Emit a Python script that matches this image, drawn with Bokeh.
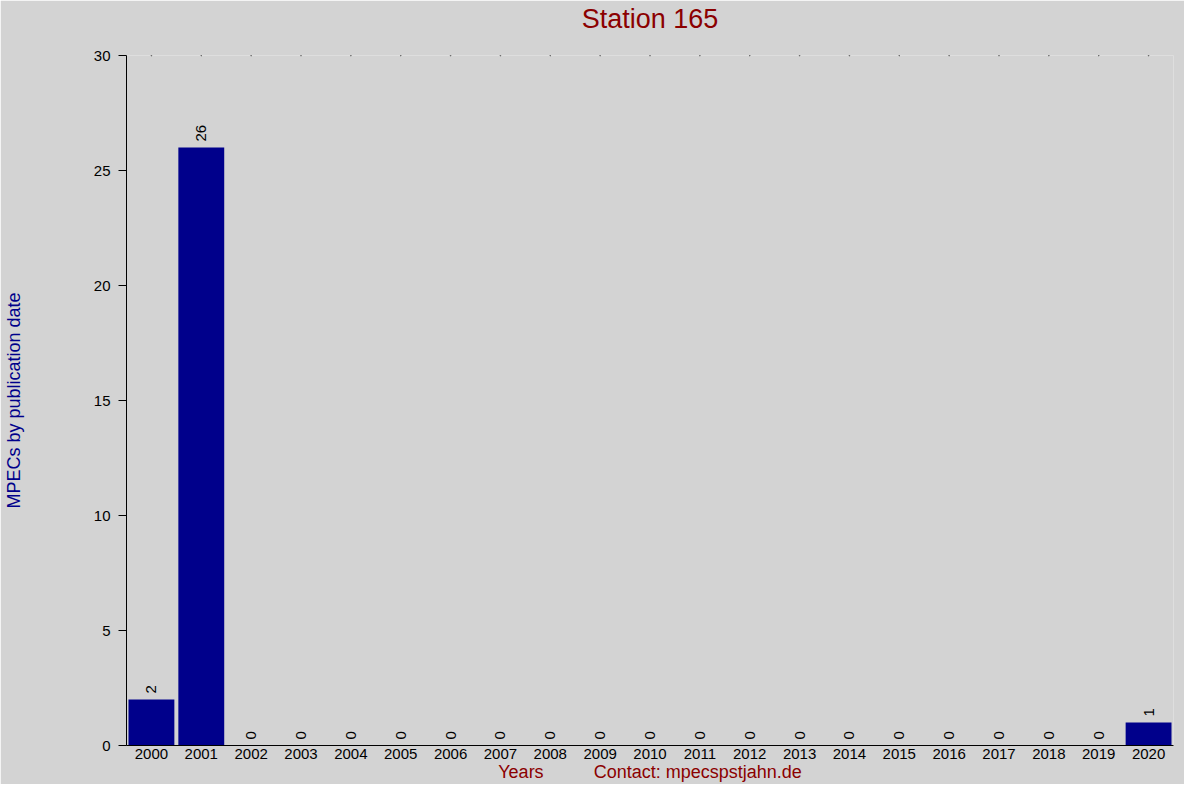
from math import pi
from bokeh.plotting import figure
from bokeh.models import FactorRange, Range1d, ColumnDataSource, FixedTicker, Title
from bokeh.core.properties import value
from bokeh.embed import file_html
from bokeh.resources import INLINE

years = ["2000", "2001", "2002", "2003", "2004", "2005", "2006", "2007", "2008", "2009",
         "2010", "2011", "2012", "2013", "2014", "2015", "2016", "2017", "2018", "2019", "2020"]
counts = [2, 26, 0, 0, 0, 0, 0, 0, 0, 0, 0, 0, 0, 0, 0, 0, 0, 0, 0, 0, 1]
y_ticks = [0, 5, 10, 15, 20, 25, 30]
y_max = 30

FONT = "Liberation Sans"
BG = "#d3d3d3"

src = ColumnDataSource(data=dict(
    year=years,
    count=counts,
    label=[str(c) for c in counts],
    top=[y_max] * len(years),
))

p = figure(
    x_range=FactorRange(*years, range_padding=0),
    y_range=Range1d(0, y_max),
    width=1184, height=784,
    output_backend="svg", toolbar_location=None,
    min_border_left=126, min_border_right=11,
    min_border_top=50, min_border_bottom=30,
    background_fill_color=BG, border_fill_color=BG,
    title="Station 165",
)
p.outline_line_color = None
p.xgrid.visible = False
p.ygrid.visible = False

p.title.align = "center"
p.title.text_font = FONT
p.title.text_font_size = "27px"
p.title.text_font_style = "normal"
p.title.text_color = "#8b0000"
p.title.standoff = 2

# empty spacer between the title and the plot frame
p.add_layout(Title(text=" ", text_font_size="1px", standoff=18,
                   background_fill_color=None), "above")

p.vbar(x="year", top="count", bottom=0, width=0.92, source=src,
       fill_color="#00008b", line_color=None)

p.scatter(x="year", y="top", source=src, size=1.6, marker="circle",
          fill_color="black", line_color=None)

p.text(x="year", y="count", text="label", source=src, angle=pi / 2,
       text_align="left", text_baseline="middle", y_offset=-6,
       text_font=value(FONT), text_font_size="15px", text_color="black")

xa = p.xaxis[0]
xa.axis_label = "Years" + "\u00a0" * 10 + "Contact: mpecspstjahn.de"
xa.axis_label_text_font = FONT
xa.axis_label_text_font_size = "18px"
xa.axis_label_text_font_style = "normal"
xa.axis_label_text_color = "#8b0000"
xa.axis_label_standoff = 0
xa.major_label_text_font = FONT
xa.major_label_text_font_size = "15px"
xa.major_label_text_color = "black"
xa.major_label_standoff = 3
xa.major_tick_line_color = None
xa.major_tick_out = 0
xa.major_tick_in = 0
xa.minor_tick_line_color = None
xa.axis_line_color = "black"
xa.axis_line_width = 1

ya = p.yaxis[0]
ya.ticker = FixedTicker(ticks=y_ticks)
ya.axis_label = "MPECs by publication date"
ya.axis_label_text_font = FONT
ya.axis_label_text_font_size = "18px"
ya.axis_label_text_font_style = "normal"
ya.axis_label_text_color = "#00008b"
ya.axis_label_standoff = 67
ya.major_label_text_font = FONT
ya.major_label_text_font_size = "15px"
ya.major_label_text_color = "black"
ya.major_label_standoff = 8
ya.major_tick_out = 8
ya.major_tick_in = 0
ya.minor_tick_line_color = None
ya.axis_line_color = "black"

open("out.html", "w").write(file_html(p, INLINE))
